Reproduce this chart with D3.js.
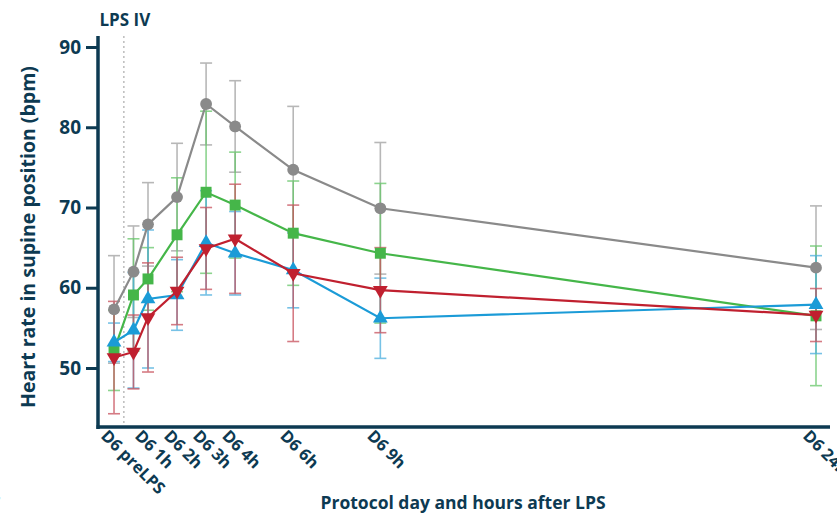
<!DOCTYPE html>
<html>
<head>
<meta charset="utf-8">
<script src="https://cdn.jsdelivr.net/npm/d3@7"></script>
<style>
  body { margin: 0; background: #fff; }
  svg { display: block; font-family: "Open Sans", sans-serif; }
</style>
</head>
<body>
<svg width="837" height="514"></svg>
<script>
var width = 837;
var height = 514;
var navy = "#0d3a52";

// time points (hours after LPS), preLPS plotted just before 0
var hours = [-0.17, 0.5, 1, 2, 3, 4, 6, 9, 24];
var tickHours = [-0.17, 1, 2, 3, 4, 6, 9, 24];
var tickLabels = ["D6 preLPS", "D6 1h", "D6 2h", "D6 3h", "D6 4h", "D6 6h", "D6 9h", "D6 24h"];
var lpsHour = 0.17;

// means and SD per group
var grayMean = [57.3, 62.0, 67.9, 71.3, 82.9, 80.1, 74.7, 69.9, 62.5];
var graySd = [6.7, 5.7, 5.2, 6.7, 5.1, 5.7, 7.9, 8.2, 7.7];
var greenMean = [52.2, 59.1, 61.1, 66.6, 71.9, 70.3, 66.8, 64.3, 56.5];
var greenSd = [5.0, 7.0, 3.9, 7.1, 10.1, 6.6, 6.5, 8.7, 8.7];
var blueMean = [53.2, 54.7, 58.6, 59.1, 65.6, 64.3, 62.2, 56.2, 57.9];
var blueSd = [2.4, 7.2, 8.6, 4.4, 6.5, 5.2, 4.7, 5.0, 6.1];
var redMean = [51.3, 52.0, 56.3, 59.6, 64.9, 66.1, 61.8, 59.7, 56.6];
var redSd = [7.0, 4.6, 6.8, 4.2, 5.1, 6.8, 8.5, 5.3, 3.3];

var series = [
  {name: "gray", mean: grayMean, sd: graySd, color: "#8a8a8a", err: "#a0a0a0", symbol: d3.symbolCircle, size: 110, rot: 0},
  {name: "green", mean: greenMean, sd: greenSd, color: "#45b649", err: "#66c669", symbol: d3.symbolSquare, size: 120, rot: 0},
  {name: "blue", mean: blueMean, sd: blueSd, color: "#1b9bd7", err: "#4aaede", symbol: d3.symbolTriangle, size: 95, rot: 0},
  {name: "red", mean: redMean, sd: redSd, color: "#c0202f", err: "#c8505b", symbol: d3.symbolTriangle, size: 95, rot: 180}
];

var x = d3.scaleLinear().domain([1, 24]).range([148, 816]);
var y = d3.scaleLinear().domain([50, 90]).range([368, 47]);

var svg = d3.select("svg");

// LPS IV marker
svg.append("line")
    .attr("x1", x(lpsHour)).attr("x2", x(lpsHour))
    .attr("y1", 36).attr("y2", 425)
    .attr("stroke", "#999").attr("stroke-width", 1)
    .attr("stroke-dasharray", "2,3");
svg.append("text")
    .attr("x", x(lpsHour) + 1).attr("y", 26)
    .attr("text-anchor", "middle")
    .attr("fill", navy).attr("font-weight", 700).attr("font-size", 17)
    .text("LPS IV");

// error bars
series.forEach(function(s) {
    var g = svg.append("g").attr("class", "err-" + s.name)
        .attr("stroke", s.err).attr("stroke-width", 1.6).attr("opacity", 0.75);
    hours.forEach(function(h, i) {
        var cx = x(h), lo = y(s.mean[i] - s.sd[i]), hi = y(s.mean[i] + s.sd[i]);
        g.append("line").attr("x1", cx).attr("x2", cx).attr("y1", lo).attr("y2", hi);
        g.append("line").attr("x1", cx - 6).attr("x2", cx + 6).attr("y1", lo).attr("y2", lo);
        g.append("line").attr("x1", cx - 6).attr("x2", cx + 6).attr("y1", hi).attr("y2", hi);
    });
});

// lines and markers
var line = d3.line()
    .x(function(d) { return x(d[0]); })
    .y(function(d) { return y(d[1]); });

series.forEach(function(s) {
    var pts = hours.map(function(h, i) { return [h, s.mean[i]]; });
    svg.append("path")
        .datum(pts)
        .attr("fill", "none")
        .attr("stroke", s.color)
        .attr("stroke-width", 2.2)
        .attr("d", line);
    svg.selectAll(null)
        .data(pts)
        .join("path")
        .attr("d", d3.symbol().type(s.symbol).size(s.size))
        .attr("fill", s.color)
        .attr("transform", function(d) {
            return "translate(" + x(d[0]) + "," + y(d[1]) + ") rotate(" + s.rot + ")";
        });
});

// y axis
var yAxis = svg.append("g")
    .attr("transform", "translate(98,0)")
    .call(d3.axisLeft(y).tickValues([50, 60, 70, 80, 90]).tickSize(12).tickPadding(5));
yAxis.select(".domain").remove();
yAxis.selectAll(".tick line").attr("stroke", navy).attr("stroke-width", 3);
yAxis.selectAll(".tick text")
    .attr("fill", navy).attr("font-size", 19).attr("font-weight", 700)
    .attr("font-family", "Open Sans, sans-serif");
svg.append("line")
    .attr("x1", 98).attr("x2", 98).attr("y1", 36).attr("y2", 429)
    .attr("stroke", navy).attr("stroke-width", 3.5);

// x axis
svg.append("line")
    .attr("x1", 96.5).attr("x2", 830).attr("y1", 427).attr("y2", 427)
    .attr("stroke", navy).attr("stroke-width", 3.5);
svg.append("g")
    .selectAll("text")
    .data(tickHours)
    .join("text")
    .attr("transform", function(d) { return "translate(" + (x(d) - 14) + ",437) rotate(45)"; })
    .attr("fill", navy).attr("font-size", 16.5).attr("font-weight", 700)
    .text(function(d, i) { return tickLabels[i]; });

// clipped label from the neighbouring panel
svg.append("text")
    .attr("transform", "translate(-44,466) rotate(45)")
    .attr("fill", navy).attr("font-size", 16.5).attr("font-weight", 700)
    .text("D6 24h");

// axis titles
svg.append("text")
    .attr("x", 463).attr("y", 509)
    .attr("text-anchor", "middle")
    .attr("fill", navy).attr("font-size", 17.5).attr("font-weight", 700)
    .text("Protocol day and hours after LPS");
svg.append("text")
    .attr("transform", "translate(35,237) rotate(-90)")
    .attr("text-anchor", "middle")
    .attr("fill", navy).attr("font-size", 19.5).attr("font-weight", 700)
    .text("Heart rate in supine position (bpm)");
</script>
</body>
</html>
